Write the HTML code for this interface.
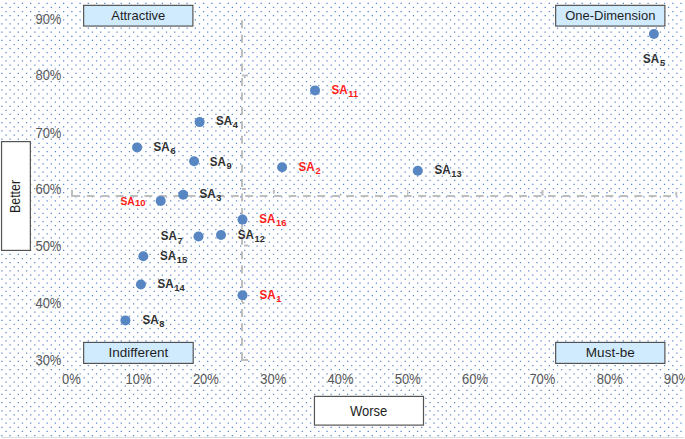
<!DOCTYPE html>
<html><head><meta charset="utf-8"><style>
html,body{margin:0;padding:0;background:#fff;width:685px;height:439px;overflow:hidden}
svg{display:block}
text{font-family:"Liberation Sans",sans-serif}
.ax{font-size:13px;fill:#595959}
.q{font-size:13px;fill:#1e1e1e}
</style></head><body>
<svg width="685" height="439" viewBox="0 0 685 439">
<rect x="0" y="0" width="685" height="439" fill="#fff"/>

<path d="M5.38 3.35H684M1.25 7.47H684M5.38 11.58H684M1.25 15.70H684M5.38 19.81H684M1.25 23.93H684M5.38 28.05H684M1.25 32.17H684M5.38 36.28H684M1.25 40.40H684M5.38 44.51H684M1.25 48.63H684M5.38 52.74H684M1.25 56.86H684M5.38 60.97H684M1.25 65.09H684M5.38 69.21H684M1.25 73.33H684M5.38 77.44H684M1.25 81.56H684M5.38 85.67H684M1.25 89.79H684M5.38 93.90H684M1.25 98.02H684M5.38 102.13H684M1.25 106.25H684M5.38 110.37H684M1.25 114.49H684M5.38 118.60H684M1.25 122.72H684M5.38 126.83H684M1.25 130.95H684M5.38 135.06H684M1.25 139.18H684M5.38 143.29H684M1.25 147.41H684M5.38 151.53H684M1.25 155.65H684M5.38 159.76H684M1.25 163.88H684M5.38 167.99H684M1.25 172.11H684M5.38 176.22H684M1.25 180.34H684M5.38 184.45H684M1.25 188.57H684M5.38 192.69H684M1.25 196.81H684M5.38 200.92H684M1.25 205.04H684M5.38 209.15H684M1.25 213.27H684M5.38 217.38H684M1.25 221.50H684M5.38 225.61H684M1.25 229.73H684M5.38 233.85H684M1.25 237.97H684M5.38 242.08H684M1.25 246.20H684M5.38 250.31H684M1.25 254.43H684M5.38 258.54H684M1.25 262.66H684M5.38 266.77H684M1.25 270.89H684M5.38 275.01H684M1.25 279.13H684M5.38 283.24H684M1.25 287.36H684M5.38 291.47H684M1.25 295.59H684M5.38 299.70H684M1.25 303.82H684M5.38 307.93H684M1.25 312.05H684M5.38 316.17H684M1.25 320.29H684M5.38 324.40H684M1.25 328.52H684M5.38 332.63H684M1.25 336.75H684M5.38 340.86H684M1.25 344.98H684M5.38 349.09H684M1.25 353.21H684M5.38 357.33H684M1.25 361.45H684M5.38 365.56H684M1.25 369.68H684M5.38 373.79H684M1.25 377.91H684M5.38 382.02H684M1.25 386.14H684M5.38 390.25H684M1.25 394.37H684M5.38 398.49H684M1.25 402.61H684M5.38 406.72H684M1.25 410.84H684M5.38 414.95H684M1.25 419.07H684M5.38 423.18H684M1.25 427.30H684M5.38 431.41H684M1.25 435.53H684" stroke="#5a87c8" stroke-width="1.25" stroke-dasharray="1.25 6.982" fill="none"/>
<line x1="1" y1="437.5" x2="684" y2="437.5" stroke="#dcdcdc" stroke-width="1"/>
<g stroke="#bebebe" stroke-width="2" fill="none">
<path d="M72.4 196 H676.4" stroke-dasharray="7.8 6.61"/>
<path d="M72 189.8 V196.8 M676.3 191.8 V196 M273.9 190 V193.8 M542.5 190 V195.7" />
<path d="M407.7 190 V194.9" stroke-width="1.2"/>
<path d="M242 75.6 H248 M242 189 H246 M244 245.5 H248 M242 303 H244.5" />
<path d="M242 20.3 V360.2" stroke-dasharray="8 6.43"/>
<path d="M241.1 360 H248" />
</g>
<g fill="#a0a0a0"><circle cx="609.6" cy="190.8" r="0.85"/><circle cx="138.9" cy="190.7" r="0.85"/><circle cx="340.6" cy="194.7" r="0.85"/><circle cx="246.8" cy="132.3" r="0.85"/></g>
<text class="ax" transform="translate(61.4,23.70) scale(1,1.09)" text-anchor="end">90%</text>
<text class="ax" transform="translate(61.4,80.12) scale(1,1.09)" text-anchor="end">80%</text>
<text class="ax" transform="translate(61.4,137.94) scale(1,1.09)" text-anchor="end">70%</text>
<text class="ax" transform="translate(61.4,194.01) scale(1,1.09)" text-anchor="end">60%</text>
<text class="ax" transform="translate(61.4,250.58) scale(1,1.09)" text-anchor="end">50%</text>
<text class="ax" transform="translate(61.4,308.30) scale(1,1.09)" text-anchor="end">40%</text>
<text class="ax" transform="translate(61.4,364.52) scale(1,1.09)" text-anchor="end">30%</text>
<text class="ax" transform="translate(71.3,383.6) scale(1,1.09)" text-anchor="middle">0%</text>
<text class="ax" transform="translate(138.6,383.6) scale(1,1.09)" text-anchor="middle">10%</text>
<text class="ax" transform="translate(205.9,383.6) scale(1,1.09)" text-anchor="middle">20%</text>
<text class="ax" transform="translate(273.2,383.6) scale(1,1.09)" text-anchor="middle">30%</text>
<text class="ax" transform="translate(340.5,383.6) scale(1,1.09)" text-anchor="middle">40%</text>
<text class="ax" transform="translate(407.8,383.6) scale(1,1.09)" text-anchor="middle">50%</text>
<text class="ax" transform="translate(475.1,383.6) scale(1,1.09)" text-anchor="middle">60%</text>
<text class="ax" transform="translate(542.4,383.6) scale(1,1.09)" text-anchor="middle">70%</text>
<text class="ax" transform="translate(609.7,383.6) scale(1,1.09)" text-anchor="middle">80%</text>
<text class="ax" transform="translate(677.0,383.6) scale(1,1.09)" text-anchor="middle">90%</text>
<rect x="83.65" y="5.35" width="109.25" height="20.700000000000003" fill="#d1ebfe" stroke="#4e4e4e" stroke-width="1.15"/>
<text class="q" transform="translate(138.28,20.40) scale(1.0,1.05)" text-anchor="middle">Attractive</text>
<rect x="555.65" y="5.35" width="109.25" height="20.700000000000003" fill="#d1ebfe" stroke="#4e4e4e" stroke-width="1.15"/>
<text class="q" transform="translate(610.27,20.40) scale(1.0,1.05)" text-anchor="middle">One-Dimension</text>
<rect x="83.65" y="342.4" width="109.54999999999998" height="21.0" fill="#d1ebfe" stroke="#4e4e4e" stroke-width="1.15"/>
<text class="q" transform="translate(138.43,357.30) scale(1.04,1.05)" text-anchor="middle">Indifferent</text>
<rect x="555.65" y="342.4" width="109.25" height="21.0" fill="#d1ebfe" stroke="#4e4e4e" stroke-width="1.15"/>
<text class="q" transform="translate(610.27,357.30) scale(1.04,1.05)" text-anchor="middle">Must-be</text>
<rect x="1.55" y="141.6" width="28.8" height="108.8" fill="#fff" stroke="#555" stroke-width="1.2"/>
<text class="q" transform="translate(19.8,196.5) rotate(-90) scale(0.955,1.06)" x="0" y="0" text-anchor="middle">Better</text>
<rect x="314.45" y="396.4" width="109.05" height="28.7" fill="#fff" stroke="#555" stroke-width="1.2"/>
<text class="q" transform="translate(368.6,416.0) scale(1,1.06)" text-anchor="middle">Worse</text>
<circle cx="653.9" cy="34.0" r="5.0" fill="#5886c3"/>
<circle cx="315.0" cy="90.4" r="5.0" fill="#5886c3"/>
<circle cx="199.6" cy="122.1" r="5.0" fill="#5886c3"/>
<circle cx="137.1" cy="147.4" r="5.0" fill="#5886c3"/>
<circle cx="194.1" cy="161.3" r="5.0" fill="#5886c3"/>
<circle cx="282.1" cy="167.2" r="5.0" fill="#5886c3"/>
<circle cx="417.8" cy="170.8" r="5.0" fill="#5886c3"/>
<circle cx="183.2" cy="194.8" r="5.0" fill="#5886c3"/>
<circle cx="160.7" cy="200.9" r="5.0" fill="#5886c3"/>
<circle cx="242.5" cy="219.6" r="5.0" fill="#5886c3"/>
<circle cx="198.5" cy="236.5" r="5.0" fill="#5886c3"/>
<circle cx="221.0" cy="235.0" r="5.0" fill="#5886c3"/>
<circle cx="143.3" cy="256.3" r="5.0" fill="#5886c3"/>
<circle cx="140.9" cy="284.5" r="5.0" fill="#5886c3"/>
<circle cx="242.5" cy="295.2" r="5.0" fill="#5886c3"/>
<circle cx="125.4" cy="320.4" r="5.0" fill="#5886c3"/>
<text transform="translate(643.10,62.5) scale(0.97,1.14)" fill="#303030" font-weight="bold" font-size="12">SA</text>
<text transform="translate(660.10,65.60) scale(1.08,1)" fill="#303030" font-weight="bold" font-size="8.6">5</text>
<text transform="translate(331.50,93.6) scale(0.97,1.14)" fill="#ff1a1a" font-weight="bold" font-size="12">SA</text>
<text transform="translate(348.30,96.60) scale(1.08,1)" fill="#ff1a1a" font-weight="bold" font-size="8.6">11</text>
<text transform="translate(215.90,124.65) scale(0.97,1.14)" fill="#303030" font-weight="bold" font-size="12">SA</text>
<text transform="translate(232.70,127.65) scale(1.08,1)" fill="#303030" font-weight="bold" font-size="8.6">4</text>
<text transform="translate(153.60,150.8) scale(0.97,1.14)" fill="#303030" font-weight="bold" font-size="12">SA</text>
<text transform="translate(170.40,153.80) scale(1.08,1)" fill="#303030" font-weight="bold" font-size="8.6">6</text>
<text transform="translate(209.80,165.8) scale(0.97,1.14)" fill="#303030" font-weight="bold" font-size="12">SA</text>
<text transform="translate(226.60,168.80) scale(1.08,1)" fill="#303030" font-weight="bold" font-size="8.6">9</text>
<text transform="translate(298.60,170.9) scale(0.97,1.14)" fill="#ff1a1a" font-weight="bold" font-size="12">SA</text>
<text transform="translate(315.40,173.90) scale(1.08,1)" fill="#ff1a1a" font-weight="bold" font-size="8.6">2</text>
<text transform="translate(434.50,174.1) scale(0.97,1.14)" fill="#303030" font-weight="bold" font-size="12">SA</text>
<text transform="translate(451.30,177.10) scale(1.08,1)" fill="#303030" font-weight="bold" font-size="8.6">13</text>
<text transform="translate(199.50,197.5) scale(0.97,1.14)" fill="#303030" font-weight="bold" font-size="12">SA</text>
<text transform="translate(216.30,200.50) scale(1.08,1)" fill="#303030" font-weight="bold" font-size="8.6">3</text>
<text transform="translate(120.45,204.9) scale(0.98,1.12)" fill="#ff1a1a" font-weight="bold" font-size="10.5">SA</text>
<text transform="translate(135.0,206.4) scale(1.03,1)" fill="#ff1a1a" font-weight="bold" font-size="9.2">10</text>
<text transform="translate(259.20,222.9) scale(0.97,1.14)" fill="#ff1a1a" font-weight="bold" font-size="12">SA</text>
<text transform="translate(276.00,225.90) scale(1.08,1)" fill="#ff1a1a" font-weight="bold" font-size="8.6">16</text>
<text transform="translate(160.80,240.3) scale(0.97,1.14)" fill="#303030" font-weight="bold" font-size="12">SA</text>
<text transform="translate(177.60,243.60) scale(1.08,1)" fill="#303030" font-weight="bold" font-size="8.6">7</text>
<text transform="translate(237.80,238.6) scale(0.97,1.14)" fill="#303030" font-weight="bold" font-size="12">SA</text>
<text transform="translate(254.60,241.90) scale(1.08,1)" fill="#303030" font-weight="bold" font-size="8.6">12</text>
<text transform="translate(160.00,259.8) scale(0.97,1.14)" fill="#303030" font-weight="bold" font-size="12">SA</text>
<text transform="translate(176.80,262.80) scale(1.08,1)" fill="#303030" font-weight="bold" font-size="8.6">15</text>
<text transform="translate(157.50,287.9) scale(0.97,1.14)" fill="#303030" font-weight="bold" font-size="12">SA</text>
<text transform="translate(174.30,290.90) scale(1.08,1)" fill="#303030" font-weight="bold" font-size="8.6">14</text>
<text transform="translate(259.40,298.9) scale(0.97,1.14)" fill="#ff1a1a" font-weight="bold" font-size="12">SA</text>
<text transform="translate(276.20,301.90) scale(1.08,1)" fill="#ff1a1a" font-weight="bold" font-size="8.6">1</text>
<text transform="translate(142.50,323.5) scale(0.97,1.14)" fill="#303030" font-weight="bold" font-size="12">SA</text>
<text transform="translate(159.30,326.50) scale(1.08,1)" fill="#303030" font-weight="bold" font-size="8.6">8</text>
</svg></body></html>
